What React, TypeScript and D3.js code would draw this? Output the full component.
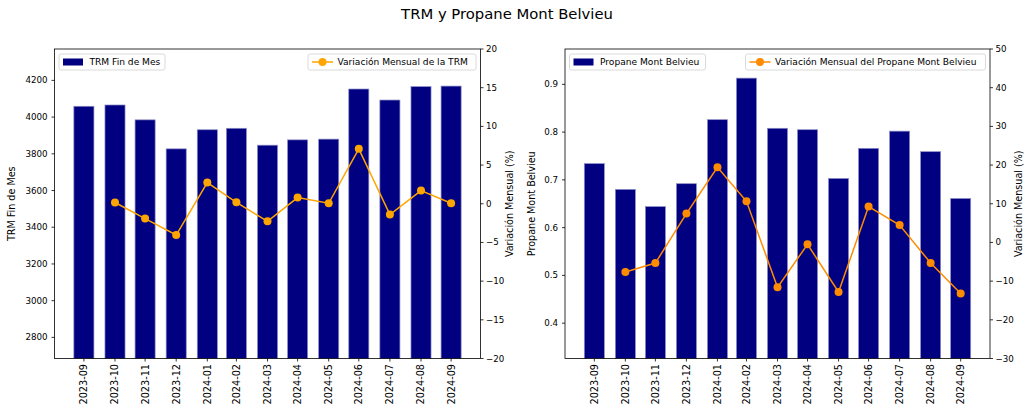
import React from 'react';
import * as d3 from 'd3';

const MONTHS = ['2023-09', '2023-10', '2023-11', '2023-12', '2024-01', '2024-02', '2024-03', '2024-04', '2024-05', '2024-06', '2024-07', '2024-08', '2024-09'];
const MONTH_END = ['2023-09-30', '2023-10-31', '2023-11-30', '2023-12-31', '2024-01-31', '2024-02-29', '2024-03-31', '2024-04-30', '2024-05-31', '2024-06-30', '2024-07-31', '2024-08-31', '2024-09-30'];

const TRM = [4059, 4066, 3985, 3827, 3931, 3939, 3847, 3876, 3880, 4153, 4093, 4166, 4169];
const TRM_VAR = [null, 0.16, -1.92, -4.04, 2.74, 0.19, -2.27, 0.8, 0.06, 7.1, -1.4, 1.7, 0.06];
const PROPANE = [0.734, 0.68, 0.644, 0.692, 0.826, 0.913, 0.808, 0.805, 0.703, 0.766, 0.802, 0.759, 0.661];
const PROPANE_VAR = [null, -7.66, -5.33, 7.45, 19.44, 10.64, -11.6, -0.5, -12.8, 9.27, 4.5, -5.33, -13.2];

const TRM_TICKS = [2800, 3000, 3200, 3400, 3600, 3800, 4000, 4200];
const TRM_VAR_TICKS = [-20, -15, -10, -5, 0, 5, 10, 15, 20];
const PROPANE_TICKS = [0.4, 0.5, 0.6, 0.7, 0.8, 0.9];
const PROPANE_VAR_TICKS = [-30, -20, -10, 0, 10, 20, 30, 40, 50];

const FONT = "'DejaVu Sans', sans-serif";
const DAY = 86400000;
const dates = MONTH_END.map(d => new Date(d + 'T00:00:00Z'));

type PanelProps = {
  left: number; right: number; top: number; bottom: number;
  bars: number[]; vars: (number | null)[];
  yDomain: [number, number]; y2Domain: [number, number];
  yTicks: number[]; y2Ticks: number[]; yFmt: (v: number) => string;
  barLabel: string; lineLabel: string; lineColor: string;
  yLabel: string; yLabelX: number; y2LabelX: number;
  leg1W: number; leg2W: number;
};

function Panel(p: PanelProps) {
  const first = dates[0].getTime() - 10 * DAY;
  const last = dates[dates.length - 1].getTime() + 10 * DAY;
  const pad = (last - first) * 0.05;
  const x = d3.scaleUtc().domain([new Date(first - pad), new Date(last + pad)]).range([p.left, p.right]);
  const y = d3.scaleLinear().domain(p.yDomain).range([p.bottom, p.top]);
  const y2 = d3.scaleLinear().domain(p.y2Domain).range([p.bottom, p.top]);
  const pts = p.vars.map((v, i) => ({ d: dates[i], v })).filter(d => d.v != null) as { d: Date; v: number }[];
  const line = d3.line<{ d: Date; v: number }>().x(d => x(d.d)).y(d => y2(d.v));
  const midY = (p.top + p.bottom) / 2;

  return (
    <g fontFamily={FONT} fontSize={8.7} fill="#000">
      {p.bars.map((v, i) => {
        const x0 = x(new Date(dates[i].getTime() - 10 * DAY));
        const x1 = x(new Date(dates[i].getTime() + 10 * DAY));
        return <rect key={i} x={x0} y={y(v)} width={x1 - x0} height={p.bottom - y(v)} fill="#000080" stroke="#8c8cc8" strokeWidth={0.7} />;
      })}
      <path d={line(pts) || ''} fill="none" stroke={p.lineColor} strokeWidth={1.5} />
      {pts.map((d, i) => <circle key={i} cx={x(d.d)} cy={y2(d.v)} r={4} fill={p.lineColor} />)}

      <rect x={p.left} y={p.top} width={p.right - p.left} height={p.bottom - p.top} fill="none" stroke="#000" strokeWidth={0.8} />

      {p.yTicks.map(t => (
        <g key={t} transform={`translate(${p.left},${y(t)})`}>
          <line x1={-3} x2={0} stroke="#000" strokeWidth={0.8} />
          <text x={-7} dy="0.35em" textAnchor="end">{p.yFmt(t)}</text>
        </g>
      ))}
      {p.y2Ticks.map(t => (
        <g key={t} transform={`translate(${p.right},${y2(t)})`}>
          <line x1={0} x2={3} stroke="#000" strokeWidth={0.8} />
          <text x={5.5} dy="0.35em">{t < 0 ? '\u2212' + Math.abs(t) : t}</text>
        </g>
      ))}
      {MONTHS.map((m, i) => (
        <g key={m} transform={`translate(${x(dates[i])},${p.bottom})`}>
          <line y1={0} y2={3} stroke="#000" strokeWidth={0.8} />
          <text transform="translate(0,5.5) rotate(-90)" textAnchor="end" dy="0.35em" fontSize={9.7}>{m}</text>
        </g>
      ))}

      <text transform={`translate(${p.yLabelX},${midY}) rotate(-90)`} textAnchor="middle" fontSize={9.6}>{p.yLabel}</text>
      <text transform={`translate(${p.y2LabelX},${midY}) rotate(-90)`} textAnchor="middle" fontSize={9.6}>Variación Mensual (%)</text>

      {/* legends */}
      <g transform={`translate(${p.left + 4.5},${p.top + 5})`} fontSize={9.1}>
        <rect width={p.leg1W} height={16} rx={2} fill="#fff" fillOpacity={0.8} stroke="#d0d0d0" strokeWidth={0.8} />
        <rect x={4} y={4.5} width={20} height={7} fill="#000080" />
        <text x={30.5} y={8} dy="0.35em">{p.barLabel}</text>
      </g>
      <g transform={`translate(${p.right - 4.5 - p.leg2W},${p.top + 5})`} fontSize={9.1}>
        <rect width={p.leg2W} height={16} rx={2} fill="#fff" fillOpacity={0.8} stroke="#d0d0d0" strokeWidth={0.8} />
        <line x1={4} x2={25} y1={8} y2={8} stroke={p.lineColor} strokeWidth={1.5} />
        <circle cx={14.5} cy={8} r={4} fill={p.lineColor} />
        <text x={29.5} y={8} dy="0.35em">{p.lineLabel}</text>
      </g>
    </g>
  );
}

export default function App() {
  return (
    <svg width={1028} height={409} style={{ position: 'absolute', left: 0, top: 0, background: '#fff' }}>
      <rect width={1028} height={409} fill="#fff" />
      <text x={507} y={18.5} textAnchor="middle" fontFamily={FONT} fontSize={14.8}>TRM y Propane Mont Belvieu</text>
      <Panel
        left={54.5} right={480.5} top={49} bottom={358.5}
        bars={TRM} vars={TRM_VAR}
        yDomain={[2685, 4371]} y2Domain={[-20, 20]}
        yTicks={TRM_TICKS} y2Ticks={TRM_VAR_TICKS} yFmt={v => String(v)}
        barLabel="TRM Fin de Mes" lineLabel="Variación Mensual de la TRM" lineColor="#ffa500"
        yLabel="TRM Fin de Mes" yLabelX={15} y2LabelX={513}
        leg1W={106} leg2W={168}
      />
      <Panel
        left={565} right={990} top={49} bottom={358.5}
        bars={PROPANE} vars={PROPANE_VAR}
        yDomain={[0.326, 0.974]} y2Domain={[-30, 50]}
        yTicks={PROPANE_TICKS} y2Ticks={PROPANE_VAR_TICKS} yFmt={v => v.toFixed(1)}
        barLabel="Propane Mont Belvieu" lineLabel="Variación Mensual del Propane Mont Belvieu" lineColor="#ff8c00"
        yLabel="Propane Mont Belvieu" yLabelX={535} y2LabelX={1022}
        leg1W={136} leg2W={240}
      />
    </svg>
  );
}
